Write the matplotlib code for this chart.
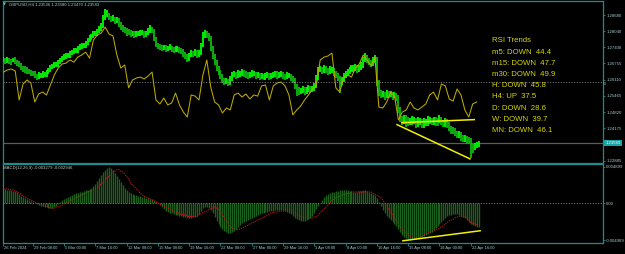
import matplotlib
matplotlib.use("Agg")
import matplotlib.pyplot as plt
from matplotlib.transforms import blended_transform_factory, ScaledTranslation

# ---------------- data ----------------
symbol_title = "GBPUSD,H4 1.23536 1.23580 1.23470 1.23583"
macd_title = "MACD(12,26,9) -0.003279 -0.002946"
last_price = 1.23583

high = [
1.2700,1.2696,1.2700,1.2696,1.2692,1.2696,1.2700,1.2688,1.2684,1.2676,
1.2664,1.2664,1.2660,1.2652,1.2648,1.2644,1.2644,1.2632,1.2640,1.2636,
1.2644,1.2640,1.2648,1.2656,1.2668,1.2672,1.2680,1.2680,1.2688,1.2696,
1.2704,1.2712,1.2716,1.2716,1.2724,1.2728,1.2736,1.2736,1.2744,1.2752,
1.2756,1.2756,1.2764,1.2776,1.2788,1.2792,1.2804,1.2804,1.2812,1.2824,
1.2836,1.2868,1.2892,1.2888,1.2876,1.2864,1.2868,1.2860,1.2860,1.2856,
1.2840,1.2828,1.2820,1.2816,1.2812,1.2808,1.2804,1.2804,1.2804,1.2804,
1.2808,1.2808,1.2804,1.2804,1.2816,1.2828,1.2820,1.2812,1.2780,1.2756,
1.2752,1.2748,1.2748,1.2748,1.2744,1.2752,1.2744,1.2740,1.2744,1.2744,
1.2740,1.2736,1.2732,1.2720,1.2712,1.2716,1.2728,1.2724,1.2732,1.2728,
1.2728,1.2756,1.2800,1.2808,1.2804,1.2796,1.2784,1.2744,1.2712,1.2688,
1.2664,1.2648,1.2632,1.2616,1.2616,1.2612,1.2624,1.2640,1.2644,1.2640,
1.2648,1.2644,1.2652,1.2648,1.2644,1.2640,1.2640,1.2648,1.2644,1.2640,
1.2640,1.2636,1.2636,1.2632,1.2636,1.2640,1.2636,1.2636,1.2640,1.2644,
1.2644,1.2640,1.2644,1.2640,1.2632,1.2640,1.2636,1.2632,1.2624,1.2616,
1.2592,1.2580,1.2576,1.2584,1.2580,1.2580,1.2588,1.2584,1.2584,1.2596,
1.2628,1.2660,1.2664,1.2660,1.2668,1.2664,1.2656,1.2664,1.2660,1.2656,
1.2644,1.2636,1.2624,1.2620,1.2636,1.2644,1.2652,1.2660,1.2668,1.2668,
1.2672,1.2668,1.2668,1.2680,1.2700,1.2716,1.2708,1.2696,1.2688,1.2700,
1.2708,1.2700,1.2608,1.2568,1.2564,1.2560,1.2568,1.2564,1.2564,1.2560,
1.2560,1.2556,1.2548,1.2504,1.2468,1.2472,1.2472,1.2464,1.2460,1.2468,
1.2464,1.2460,1.2464,1.2460,1.2456,1.2460,1.2456,1.2468,1.2464,1.2460,
1.2464,1.2464,1.2460,1.2472,1.2464,1.2452,1.2460,1.2456,1.2444,1.2428,
1.2424,1.2420,1.2408,1.2408,1.2404,1.2392,1.2392,1.2388,1.2384,1.2380,
1.2356,1.2360,1.2364,1.2368,
]

low = [
1.2680,1.2672,1.2676,1.2672,1.2668,1.2680,1.2672,1.2664,1.2660,1.2648,
1.2640,1.2636,1.2632,1.2632,1.2624,1.2624,1.2616,1.2608,1.2612,1.2616,
1.2616,1.2620,1.2620,1.2632,1.2640,1.2652,1.2656,1.2660,1.2660,1.2672,
1.2680,1.2688,1.2692,1.2696,1.2696,1.2708,1.2712,1.2716,1.2716,1.2728,
1.2732,1.2736,1.2736,1.2748,1.2760,1.2768,1.2776,1.2784,1.2784,1.2796,
1.2804,1.2816,1.2848,1.2860,1.2848,1.2840,1.2844,1.2832,1.2836,1.2820,
1.2808,1.2800,1.2796,1.2784,1.2788,1.2780,1.2784,1.2776,1.2780,1.2784,
1.2784,1.2788,1.2776,1.2780,1.2788,1.2796,1.2796,1.2764,1.2740,1.2732,
1.2728,1.2724,1.2728,1.2720,1.2724,1.2728,1.2720,1.2716,1.2720,1.2720,
1.2716,1.2712,1.2700,1.2692,1.2680,1.2684,1.2700,1.2700,1.2704,1.2696,
1.2700,1.2708,1.2740,1.2776,1.2776,1.2764,1.2724,1.2692,1.2668,1.2644,
1.2628,1.2612,1.2596,1.2588,1.2592,1.2584,1.2588,1.2604,1.2620,1.2612,
1.2616,1.2620,1.2624,1.2620,1.2616,1.2612,1.2616,1.2620,1.2624,1.2612,
1.2616,1.2608,1.2612,1.2608,1.2608,1.2616,1.2608,1.2612,1.2616,1.2620,
1.2612,1.2616,1.2620,1.2612,1.2608,1.2612,1.2616,1.2604,1.2596,1.2572,
1.2544,1.2548,1.2552,1.2556,1.2548,1.2552,1.2560,1.2556,1.2560,1.2564,
1.2576,1.2608,1.2640,1.2632,1.2636,1.2636,1.2628,1.2632,1.2636,1.2624,
1.2616,1.2604,1.2556,1.2588,1.2600,1.2616,1.2624,1.2632,1.2640,1.2640,
1.2644,1.2636,1.2640,1.2648,1.2656,1.2680,1.2676,1.2668,1.2660,1.2664,
1.2676,1.2584,1.2544,1.2536,1.2540,1.2532,1.2536,1.2536,1.2540,1.2532,
1.2536,1.2528,1.2480,1.2444,1.2432,1.2436,1.2424,1.2428,1.2432,1.2432,
1.2436,1.2420,1.2424,1.2432,1.2420,1.2420,1.2428,1.2428,1.2436,1.2432,
1.2432,1.2428,1.2428,1.2440,1.2432,1.2424,1.2424,1.2420,1.2408,1.2396,
1.2396,1.2388,1.2380,1.2380,1.2368,1.2364,1.2364,1.2356,1.2356,1.2300,
1.2320,1.2332,1.2340,1.2344,
]

# RSI overlay, sampled every second bar
rsi_step = 2
rsi = [
56.1,57.4,58.0,56.8,38.8,48.7,51.2,49.3,37.5,42.5,
43.7,41.9,48.1,54.3,58.6,61.1,61.7,63.6,62.3,65.4,
66.7,68.5,64.8,76.0,79.1,80.3,84.0,79.7,78.5,66.7,
58.6,60.5,46.3,51.2,52.4,53.0,51.8,53.7,56.1,38.8,
36.3,40.0,35.7,36.9,43.1,35.7,31.3,28.2,41.9,41.2,
38.8,54.3,63.6,46.8,37.5,35.7,30.7,33.8,32.6,41.9,
43.1,40.6,42.5,39.4,41.9,41.2,47.5,48.1,38.8,47.5,
49.3,49.9,47.5,41.9,29.5,32.6,35.0,38.8,41.9,45.6,
47.5,63.6,65.4,66.1,67.9,46.3,43.7,52.4,54.3,53.0,
58.6,61.1,66.7,63.6,59.9,65.4,34.4,33.8,37.5,43.7,
41.2,26.4,31.3,32.6,37.5,33.8,32.6,34.4,36.3,41.9,
43.7,38.8,48.7,47.5,39.4,38.1,45.6,41.9,32.6,28.2,
36.3,37.5,
]
rsi_level = 50

macd_main = [
.0018,.0019,.0018,.0018,.0018,.0016,.0016,.0015,.0012,.0009,
.0008,.0007,.0005,.0004,.0003,.0001,0,-.0001,-.0003,-.0004,
-.0004,-.0005,-.0005,-.0007,-.0007,-.0007,-.0005,-.0004,-.0001,.0001,
.0004,.0005,.0007,.0008,.0009,.0011,.0012,.0013,.0013,.0015,
.0015,.0016,.0018,.0018,.0019,.0020,.0023,.0026,.0030,.0034,
.0038,.0042,.0045,.0047,.004899,.0047,.0045,.0040,.0036,.0032,
.0028,.0024,.0020,.0018,.0015,.0013,.0012,.0011,.0011,.0009,
.0009,.0008,.0008,.0007,.0007,.0005,.0005,.0004,.0003,0,
-.0003,-.0005,-.0008,-.0011,-.0012,-.0013,-.0013,-.0015,-.0016,-.0016,
-.0018,-.0018,-.0019,-.0019,-.0020,-.0020,-.0020,-.0019,-.0019,-.0018,
-.0015,-.0011,-.0007,-.0005,-.0005,-.0007,-.0009,-.0013,-.0019,-.0024,
-.0028,-.0032,-.0035,-.0038,-.0039,-.0040,-.0040,-.0039,-.0038,-.0035,
-.0032,-.0030,-.0027,-.0026,-.0024,-.0023,-.0022,-.0020,-.0019,-.0018,
-.0016,-.0015,-.0013,-.0013,-.0012,-.0012,-.0011,-.0011,-.0011,-.0009,
-.0009,-.0009,-.0009,-.0009,-.0011,-.0012,-.0013,-.0015,-.0018,-.0020,
-.0022,-.0023,-.0024,-.0024,-.0024,-.0023,-.0022,-.0020,-.0018,-.0013,
-.0008,-.0004,0,.0004,.0008,.0011,.0012,.0013,.0015,.0015,
.0016,.0016,.0018,.0018,.0018,.0018,.0018,.0016,.0016,.0015,
.0015,.0015,.0016,.0016,.0018,.0018,.0016,.0015,.0013,.0012,
.0011,.0007,.0001,-.0004,-.0009,-.0013,-.0018,-.0020,-.0023,-.0026,
-.0028,-.0031,-.0035,-.0039,-.0043,-.0046,-.0047,-.0048,-.004989,-.0049,
-.0049,-.0049,-.0048,-.0047,-.0046,-.0045,-.0043,-.0042,-.0040,-.0039,
-.0036,-.0034,-.0031,-.0028,-.0026,-.0023,-.0020,-.0018,-.0016,-.0016,
-.0015,-.0015,-.0015,-.0016,-.0018,-.0019,-.0020,-.0023,-.0026,-.0028,
-.0030,-.0031,-.0032,-.003279,
]

macd_signal = [
.0019,.0019,.0019,.0018,.0018,.0018,.0016,.0015,.0013,.0012,
.0009,.0008,.0007,.0005,.0004,.0003,.0001,0,-.0001,-.0003,
-.0004,-.0004,-.0005,-.0005,-.0007,-.0007,-.0007,-.0005,-.0005,-.0004,
-.0003,-.0001,0,.0001,.0003,.0004,.0005,.0007,.0008,.0009,
.0011,.0012,.0013,.0015,.0016,.0016,.0018,.0019,.0020,.0023,
.0026,.0028,.0031,.0034,.0036,.0039,.0042,.0043,.0045,.0045,
.0043,.0042,.0039,.0036,.0032,.0028,.0024,.0022,.0019,.0016,
.0013,.0011,.0009,.0008,.0007,.0005,.0004,.0003,.0001,0,
-.0001,-.0003,-.0004,-.0005,-.0007,-.0008,-.0009,-.0011,-.0012,-.0013,
-.0015,-.0015,-.0016,-.0016,-.0018,-.0018,-.0018,-.0018,-.0018,-.0018,
-.0016,-.0015,-.0013,-.0012,-.0011,-.0009,-.0008,-.0007,-.0005,-.0007,
-.0009,-.0012,-.0016,-.0020,-.0024,-.0028,-.0031,-.0034,-.0035,-.0036,
-.0036,-.0035,-.0034,-.0032,-.0031,-.0030,-.0028,-.0027,-.0026,-.0024,
-.0023,-.0022,-.0020,-.0019,-.0018,-.0016,-.0015,-.0013,-.0013,-.0012,
-.0012,-.0011,-.0011,-.0011,-.0011,-.0009,-.0009,-.0011,-.0012,-.0013,
-.0015,-.0016,-.0018,-.0019,-.0019,-.0020,-.0020,-.0020,-.0020,-.0019,
-.0018,-.0016,-.0013,-.0011,-.0008,-.0005,-.0003,0,.0003,.0005,
.0007,.0008,.0009,.0011,.0012,.0012,.0013,.0013,.0015,.0015,
.0015,.0015,.0015,.0015,.0015,.0015,.0015,.0015,.0015,.0013,
.0012,.0011,.0009,.0007,.0004,0,-.0004,-.0008,-.0012,-.0016,
-.0020,-.0024,-.0028,-.0032,-.0035,-.0038,-.0040,-.0043,-.0045,-.0046,
-.0047,-.0047,-.0047,-.0046,-.0045,-.0043,-.0042,-.0040,-.0039,-.0038,
-.0038,-.0036,-.0035,-.0034,-.0032,-.0031,-.0028,-.0026,-.0024,-.0023,
-.0022,-.0020,-.0019,-.0018,-.0018,-.0018,-.0019,-.0020,-.0023,-.0026,
-.0027,-.0028,-.0029,-.002946,
]

# trend lines (bar index, value)
trend1_bars = [201.3, 238.6]
trend1_prices = [1.2432, 1.2296]
trend2_bars = [203.8, 240.8]
trend2_prices = [1.2440, 1.2452]
macd_trend_bars = [204.3, 243.8]
macd_trend_vals = [-0.00509, -0.00374]

price_ticks = [1.28680, 1.28040, 1.27400, 1.26755, 1.26110, 1.25465,
               1.24820, 1.24175, 1.22885]
macd_ticks = [0.004899, 0.0, -0.004989]
macd_tick_labels = ["0.004899", "0.00", "-0.004989"]

time_label_bars = [0, 15, 31, 47, 63, 79, 95, 111, 127, 143, 159, 175, 191,
                   207, 223, 239]
time_labels = ["26 Feb 2024", "29 Feb 08:00", "5 Mar 00:00", "7 Mar 16:00",
               "12 Mar 08:00", "15 Mar 00:00", "19 Mar 16:00", "22 Mar 08:00",
               "27 Mar 00:00", "29 Mar 16:00", "3 Apr 08:00", "8 Apr 00:00",
               "10 Apr 16:00", "15 Apr 08:00", "18 Apr 00:00", "22 Apr 16:00"]

rsi_trend_lines = ["RSI Trends", "m5: DOWN  44.4", "m15: DOWN  47.7",
                   "m30: DOWN  49.9", "H: DOWN  45.8", "H4: UP  37.5",
                   "D: DOWN  28.6", "W: DOWN  39.7", "MN: DOWN  46.1"]

# ---------------- style ----------------
W, H = 625, 254
BG = "black"
TEAL = "#1d8c8c"
LAB = "#a4cccc"
SMALL = 3.1
plt.rcParams['font.family'] = ['Liberation Sans', 'DejaVu Sans']

fig = plt.figure(figsize=(W / 100, H / 100), dpi=100, facecolor=BG)


def px_axes(x0, y0, x1, y1):
    return fig.add_axes([x0 / W, 1 - y1 / H, (x1 - x0) / W, (y1 - y0) / H])


ax = px_axes(2.5, 1.3, 602.5, 162.5)
axm = px_axes(2.5, 163.5, 602.5, 243.0)
axr = ax.twinx()          # RSI overlay scale (0..100)

n = len(high)
bars = list(range(n))
XLIM = (-0.51, 306.4)

for a in (ax, axm):
    a.set_facecolor(BG)
    a.set_xlim(*XLIM)
    for s in a.spines.values():
        s.set_color(TEAL)
        s.set_linewidth(0.9)
    a.yaxis.tick_right()
    a.yaxis.set_label_position("right")
    a.tick_params(axis='y', which='both', direction='out', length=1.5,
                  width=0.6, color=TEAL, labelsize=SMALL, labelcolor=LAB,
                  pad=1.2, left=False, labelleft=False, right=True,
                  labelright=True)

# ---- price bars ----
ax.set_ylim(1.22815, 1.29225)
mids = [(h + l) / 2 for h, l in zip(high, low)]
cols = ["#00ff00" if (i == 0 or mids[i] >= mids[i - 1]) else "#10b810"
        for i in range(n)]
ax.vlines(bars, low, high, colors=cols, linewidth=1.3, zorder=3)

ax.set_yticks(price_ticks)
ax.set_yticklabels([f"{p:.5f}" for p in price_ticks])
ax.tick_params(axis='x', bottom=False, labelbottom=False)

# current price line and label
ax.axhline(last_price, color="#5c5c5c", linewidth=0.9, zorder=2)
ax.annotate(f"{last_price:.5f}", xy=(1.0, last_price),
            xycoords=blended_transform_factory(ax.transAxes, ax.transData),
            xytext=(2.0, 0), textcoords="offset points", ha="left",
            va="center", fontsize=SMALL, color="white", annotation_clip=False,
            bbox=dict(boxstyle="square,pad=0.3", fc="#1aa3a3", ec="none"))

# ---- RSI overlay ----
axr.set_ylim(0, 100)
axr.set_xlim(*XLIM)
axr.axis('off')
rsi_bars = list(range(0, rsi_step * len(rsi), rsi_step))
axr.axhline(rsi_level, color="#9a9a9a", linewidth=0.6,
            linestyle=(0, (1.2, 2.0)), zorder=1)
axr.plot(rsi_bars, rsi, color="#bcaa00", linewidth=0.75, zorder=4)
axr.plot(trend1_bars, trend1_prices, color="#f2f000", linewidth=1.1,
         transform=ax.transData, zorder=5)
axr.plot(trend2_bars, trend2_prices, color="#f2f000", linewidth=1.1,
         transform=ax.transData, zorder=5)
fig.text(603.3 / W, 1 - 83.5 / H, str(rsi_level), fontsize=2.9,
         color="#a0a0a0", va="center", ha="left")

# ---- MACD ----
axm.set_ylim(-0.00539, 0.005329)
axm.vlines(bars, 0, macd_main, colors="#1b601b", linewidth=1.0, zorder=2)
axm.axhline(0, color="#9a9a9a", linewidth=0.6, linestyle=(0, (1.2, 2.0)),
            zorder=3)
axm.plot(bars, macd_signal, color="#c81818", linewidth=0.8,
         linestyle=(0, (1, 1)), zorder=4)
axm.plot(macd_trend_bars, macd_trend_vals, color="#f2f000", linewidth=1.1,
         zorder=5)
axm.set_yticks(macd_ticks)
axm.set_yticklabels(macd_tick_labels)

axm.set_xticks(time_label_bars)
axm.set_xticklabels(time_labels)
axm.tick_params(axis='x', direction='out', length=2.0, width=0.6, color=TEAL,
                labelsize=2.9, labelcolor=LAB, pad=0.5)
shift = ScaledTranslation(1.0 / 100, 0, fig.dpi_scale_trans)
for lbl in axm.get_xticklabels():
    lbl.set_horizontalalignment('left')
    lbl.set_transform(lbl.get_transform() + shift)

# ---- texts ----
fig.text(3 / W, 1 - 4.8 / H, "\u25bc", fontsize=2.8, color="#4fc0c0",
         va="center", ha="left", family=['DejaVu Sans'])
fig.text(9 / W, 1 - 4.8 / H, symbol_title, fontsize=3.1, color="#b4cccc",
         va="center", ha="left")
fig.text(3 / W, 1 - 167.5 / H, macd_title, fontsize=3.1, color="#c8c8c8",
         va="center", ha="left")

for k, line in enumerate(rsi_trend_lines):
    fig.text(492 / W, 1 - (41 + 11.2 * k) / H, line, fontsize=5.6,
             color="#d6d600", va="center", ha="left")

fig.savefig("out.png", dpi=100, facecolor=BG)
